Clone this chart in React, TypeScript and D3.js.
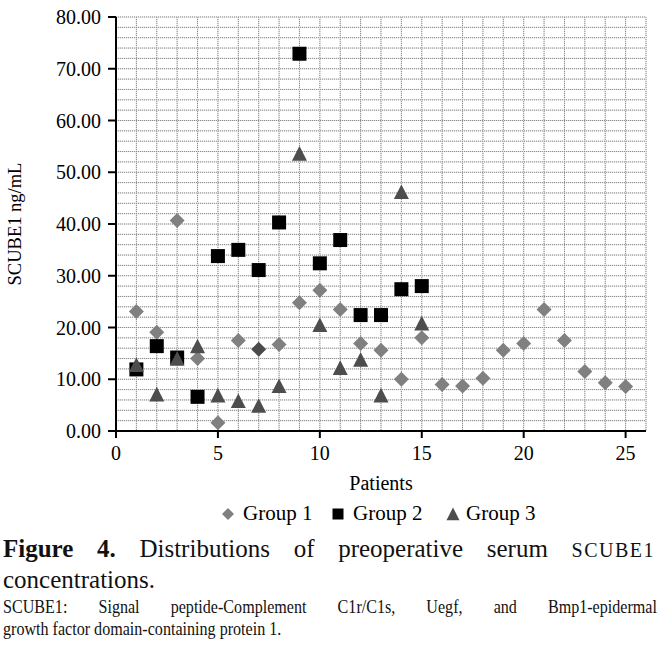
import React, { useMemo } from "react";
import * as d3 from "d3";

const patientsA = [1, 2, 3, 4, 5, 6, 7, 8, 9, 10, 11, 12, 13, 14, 15, 16, 17, 18, 19, 20, 21, 22, 23, 24, 25];
const group1 = [23.1, 19.1, 40.7, 14.0, 1.6, 17.5, 15.8, 16.7, 24.8, 27.2, 23.5, 16.9, 15.6, 10.0, 18.0, 9.0, 8.7, 10.2, 15.6, 16.9, 23.5, 17.5, 11.5, 9.3, 8.6];
const patientsB = [1, 2, 3, 4, 5, 6, 7, 8, 9, 10, 11, 12, 13, 14, 15];
const group2 = [11.9, 16.4, 14.2, 6.6, 33.8, 35.0, 31.1, 40.3, 72.9, 32.4, 36.9, 22.4, 22.4, 27.4, 28.0];
const group3 = [12.8, 7.1, 14.0, 16.4, 6.9, 5.8, 4.9, 8.7, 53.6, 20.5, 12.2, 13.8, 6.9, 46.2, 20.8];
const seriesNames = ["Group 1", "Group 2", "Group 3"];
const yTicks = [0, 10, 20, 30, 40, 50, 60, 70, 80];
const xTicks = [0, 5, 10, 15, 20, 25];
const xTitle = "Patients";
const yTitle = "SCUBE1 ng/mL";

const W = 662;
const H = 650;
const FONT = "'Liberation Serif', 'Times New Roman', serif";
const C1 = "#808080";
const C1dark = "#4a4a4a";
const C2 = "#000000";
const C3 = "#4d4d4d";
const darkPoint = 7;
const SX = 0.87;

function diamond(cx: number, cy: number, r: number) {
  return `M${cx},${cy - r}L${cx + r},${cy}L${cx},${cy + r}L${cx - r},${cy}Z`;
}
function square(cx: number, cy: number, r: number) {
  return `M${cx - r},${cy - r}H${cx + r}V${cy + r}H${cx - r}Z`;
}
function triangle(cx: number, cy: number, r: number) {
  return `M${cx},${cy - r}L${cx + r},${cy + r * 0.95}L${cx - r},${cy + r * 0.95}Z`;
}

let ctx: CanvasRenderingContext2D | null = null;
function measure(text: string, font: string) {
  if (!ctx) ctx = document.createElement("canvas").getContext("2d");
  ctx!.font = font;
  return ctx!.measureText(text).width;
}

type Word = { t: string; size: number; weight?: string; ls?: number };

function justify(words: Word[], x0: number, x1: number, sx: number) {
  const widths = words.map(
    (w) => (measure(w.t, `${w.weight || "normal"} ${w.size}px 'Liberation Serif'`) + (w.ls || 0) * w.t.length) * sx
  );
  const total = widths.reduce((a, b) => a + b, 0);
  const gap = (x1 - x0 - total) / (words.length - 1);
  let x = x0;
  return words.map((w, i) => {
    const r = { ...w, x };
    x += widths[i] + gap;
    return r;
  });
}

const caption1: Word[] = [
  { t: "Figure", size: 25, weight: "bold" },
  { t: "4.", size: 25, weight: "bold" },
  { t: "Distributions", size: 25 },
  { t: "of", size: 25 },
  { t: "preoperative", size: 25 },
  { t: "serum", size: 25 },
  { t: "SCUBE1", size: 20, ls: 1.5 },
];
const caption3: Word[] = [
  "SCUBE1:", "Signal", "peptide-Complement", "C1r/C1s,", "Uegf,", "and", "Bmp1-epidermal",
].map((t) => ({ t, size: 18.5 }));

export default function App() {
  const x = d3.scaleLinear().domain([0, 26]).range([116, 646]);
  const y = d3.scaleLinear().domain([0, 80]).range([431, 17]);
  const vGrid = d3.range(1, 27);
  const hGrid = d3.range(2, 81, 2);

  const line1 = useMemo(() => justify(caption1, 3, 655, 1), []);
  const line3 = useMemo(() => justify(caption3, 3, 657, SX), []);

  return (
    <svg width={W} height={H} style={{ position: "absolute", left: 0, top: 0, background: "#fff" }} fontFamily={FONT}>
      <rect width={W} height={H} fill="#fff" />
      {/* grid */}
      <g>
        {vGrid.map((v) => (
          <g key={"v" + v}>
            <line x1={x(v)} x2={x(v)} y1={y(80)} y2={y(0)} stroke="#e0e0e0" strokeWidth={1} />
            <line x1={x(v)} x2={x(v)} y1={y(80)} y2={y(0)} stroke="#8a8a8a" strokeWidth={1} strokeDasharray="1,1" />
          </g>
        ))}
        {hGrid.map((v) => (
          <g key={"h" + v}>
            <line x1={x(0)} x2={x(26)} y1={y(v)} y2={y(v)} stroke="#e0e0e0" strokeWidth={1} />
            <line x1={x(0)} x2={x(26)} y1={y(v)} y2={y(v)} stroke="#8a8a8a" strokeWidth={1} strokeDasharray="1,1" />
          </g>
        ))}
      </g>
      {/* axes */}
      <line x1={x(0)} x2={x(0)} y1={y(80)} y2={y(0)} stroke="#000" strokeWidth={2} />
      <line x1={x(0) - 8} x2={x(26)} y1={y(0)} y2={y(0)} stroke="#000" strokeWidth={2} />
      {yTicks.map((t) => (
        <g key={"yt" + t}>
          <line x1={x(0) - 8} x2={x(0)} y1={y(t)} y2={y(t)} stroke="#000" strokeWidth={2} />
          <text x={x(0) - 15} y={y(t)} dy="0.35em" textAnchor="end" fontSize={20} fill="#000">
            {t.toFixed(2)}
          </text>
        </g>
      ))}
      {xTicks.map((t) => (
        <g key={"xt" + t}>
          <line x1={x(t)} x2={x(t)} y1={y(0)} y2={y(0) + 7} stroke="#000" strokeWidth={2} />
          <text x={x(t)} y={460} textAnchor="middle" fontSize={20} fill="#000">
            {t}
          </text>
        </g>
      ))}
      <text x={(x(0) + x(26)) / 2} y={490} textAnchor="middle" fontSize={20}>
        {xTitle}
      </text>
      <text transform={`translate(21,${(y(0) + y(80)) / 2}) rotate(-90)`} textAnchor="middle" fontSize={18.5}>
        {yTitle}
      </text>
      {/* points */}
      <g>
        {group1.map((v, i) => (
          <path key={"g1" + i} d={diamond(x(patientsA[i]), y(v), 7.5)} fill={patientsA[i] === darkPoint ? C1dark : C1} />
        ))}
        {group2.map((v, i) => (
          <path key={"g2" + i} d={square(x(patientsB[i]), y(v), 7)} fill={C2} />
        ))}
        {group3.map((v, i) => (
          <path key={"g3" + i} d={triangle(x(patientsB[i]), y(v), 7.5)} fill={C3} />
        ))}
      </g>
      {/* legend */}
      <g fontSize={21}>
        <path d={diamond(228, 514, 6)} fill={C1} />
        <text x={243} y={520}>{seriesNames[0]}</text>
        <path d={square(338, 514, 5.5)} fill={C2} />
        <text x={353} y={520}>{seriesNames[1]}</text>
        <path d={triangle(453, 514, 6.5)} fill={C3} />
        <text x={466} y={520}>{seriesNames[2]}</text>
      </g>
      {/* caption */}
      <g fill="#111">
        {line1.map((w, i) => (
          <text key={"c1" + i} x={w.x} y={557} fontSize={w.size} fontWeight={w.weight || "normal"} letterSpacing={w.ls || 0}>
            {w.t}
          </text>
        ))}
        <text x={3} y={588} fontSize={25}>concentrations.</text>
        {line3.map((w, i) => (
          <text key={"c3" + i} transform={`translate(${w.x},613) scale(${SX},1)`} fontSize={w.size}>
            {w.t}
          </text>
        ))}
        <text transform={`translate(3,635) scale(${SX},1)`} fontSize={18.5}>
          growth factor domain-containing protein 1.
        </text>
      </g>
    </svg>
  );
}
